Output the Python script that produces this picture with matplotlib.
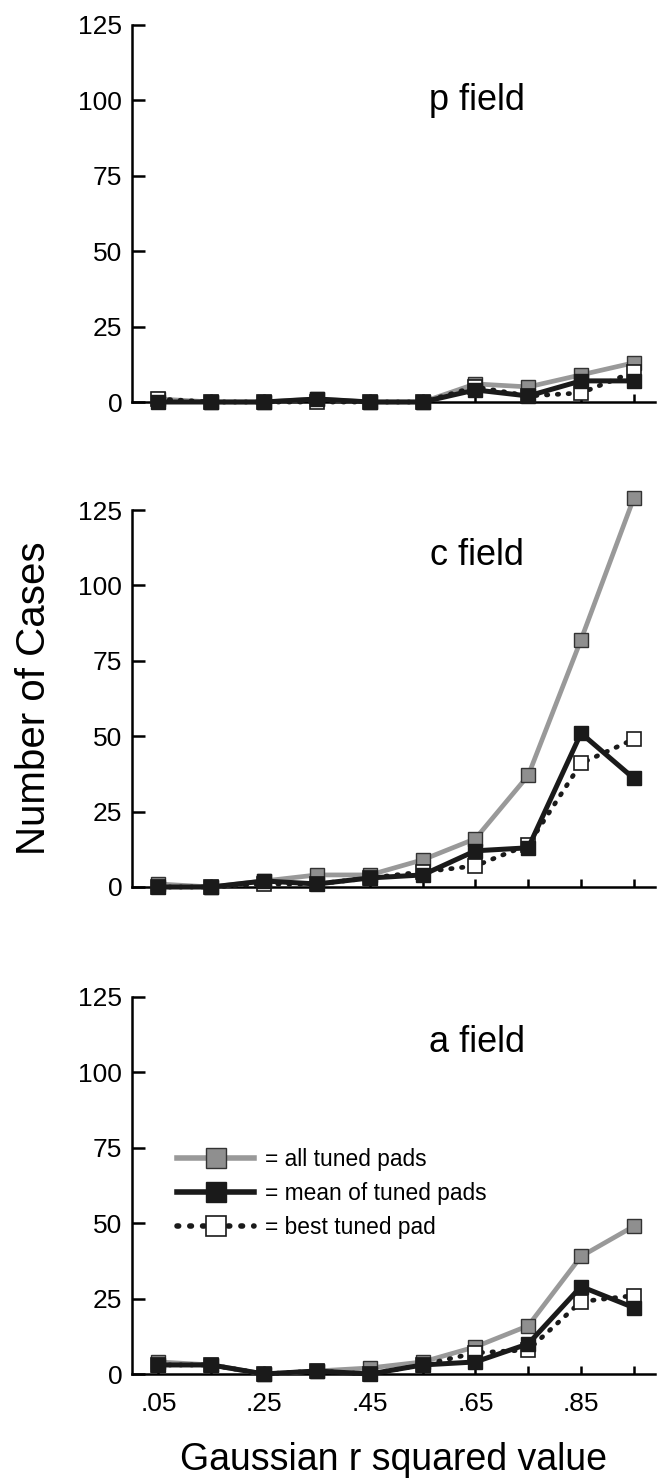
# Histogram of Gaussian r^2 fits for the p, c and a fields

import numpy as np
import matplotlib.pyplot as plt

plt.rcParams['font.family'] = ['Liberation Sans', 'DejaVu Sans']

# bin centres for the r squared value
r_bins = [.05, .15, .25, .35, .45, .55, .65, .75, .85, .95]
tick_labels = ['.05', '', '.25', '', '.45', '', '.65', '', '.85', '']

# p field
p_all = [1, 0, 0, 1, 0, 0, 6, 5, 9, 13]
p_mean = [0, 0, 0, 1, 0, 0, 4, 2, 7, 7]
p_best = [1, 0, 0, 0, 0, 0, 5, 2, 3, 10]

# c field
c_all = [1, 0, 2, 4, 4, 9, 16, 37, 82, 129]
c_mean = [0, 0, 2, 1, 3, 4, 12, 13, 51, 36]
c_best = [0, 0, 1, 1, 3, 5, 7, 14, 41, 49]

# a field
a_all = [4, 3, 0, 1, 2, 4, 9, 16, 39, 49]
a_mean = [3, 3, 0, 1, 0, 3, 4, 10, 29, 22]
a_best = [3, 3, 0, 1, 0, 3, 7, 8, 24, 26]

panels = [('p field', 100, p_all, p_mean, p_best),
          ('c field', 110, c_all, c_mean, c_best),
          ('a field', 110, a_all, a_mean, a_best)]

fig = plt.figure(figsize=(6.57, 14.81), dpi=100)
left = 132 / 657
width = 523 / 657
height = 377 / 1481
bottoms = [1079 / 1481, 594 / 1481, 107 / 1481]

gray = '#999999'
dark = '#1a1a1a'
for i, (name, name_y, all_v, mean_v, best_v) in enumerate(panels):
    ax = fig.add_axes([left, bottoms[i], width, height])
    ax.plot(r_bins, all_v, color=gray, lw=3.4, marker='s', ms=9.5,
            mfc='#8f8f8f', mec='#333333', mew=1, clip_on=False, zorder=3,
            label='= all tuned pads')
    ax.plot(r_bins, best_v, color=dark, lw=3.4, ls=(0, (0.3, 2.0)),
            dash_capstyle='round', marker='s', ms=9.5, mfc='white',
            mec=dark, mew=1.2, clip_on=False, zorder=4,
            label='= best tuned pad')
    ax.plot(r_bins, mean_v, color=dark, lw=3.6, marker='s', ms=9.5,
            mfc=dark, mec=dark, clip_on=False, zorder=5,
            label='= mean of tuned pads')
    ax.set_xlim(0, 0.99)
    ax.set_ylim(0, 125)
    ax.set_yticks([0, 25, 50, 75, 100, 125])
    ax.set_xticks(r_bins)
    if i == 2:
        ax.set_xticklabels(tick_labels)
        ax.set_xlabel('Gaussian r squared value', fontsize=27, labelpad=19)
    else:
        ax.set_xticklabels([])
    ax.spines['top'].set_visible(False)
    ax.spines['right'].set_visible(False)
    ax.spines['left'].set_linewidth(1.8)
    ax.spines['bottom'].set_linewidth(1.8)
    ax.tick_params(axis='y', direction='in', length=9.5, width=1.8,
                   labelsize=19, pad=7)
    ax.tick_params(axis='x', direction='in', length=6, width=1.8,
                   labelsize=19, pad=13)
    ax.text(0.653, name_y, name, fontsize=26, ha='center', va='center')
    if i == 1:
        ax.set_ylabel('Number of Cases', fontsize=29, labelpad=18)
    if i == 2:
        h, l = ax.get_legend_handles_labels()
        order = [0, 2, 1]
        leg = ax.legend([h[k] for k in order], [l[k] for k in order],
                        loc='upper left', bbox_to_anchor=(0.086, 0.600),
                        frameon=False, fontsize=16.4, handlelength=3.4,
                        handletextpad=0.45, labelspacing=0.48, borderpad=0,
                        borderaxespad=0, numpoints=1, markerscale=1.45)
        for line in leg.get_lines():
            line.set_linewidth(4.0)

fig.savefig('out.png', dpi=100)
